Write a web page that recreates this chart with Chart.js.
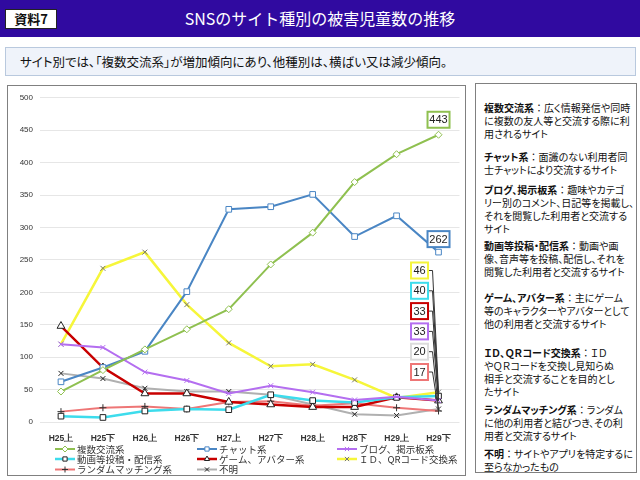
<!DOCTYPE html>
<html lang="ja">
<head>
<meta charset="utf-8">
<script src="https://cdn.jsdelivr.net/npm/chart.js@4.4.1/dist/chart.umd.min.js"></script>
<style>
  body { margin: 0; width: 640px; height: 480px; background: #fff; position: relative; overflow: hidden;
         font-family: "Noto Sans CJK JP", "Noto Sans", sans-serif; }
  .band { position: absolute; left: 0; top: 0; width: 640px; height: 37px; background: #300aa0; }
  .badge { position: absolute; left: 5px; top: 9px; width: 50px; height: 18px; background: #fff; border: 1px solid #222;
           font-size: 13px; font-weight: bold; line-height: 18px; text-align: center; color: #111; }
  .title { position: absolute; left: 0; top: 6px; width: 640px; text-align: center; color: #fff; font-size: 16px; line-height: 24px; }
  .lead { position: absolute; left: 5px; top: 47px; width: 631px; height: 29px; background: #eff3fa; border: 1px solid #b9c9de;
          box-sizing: border-box; font-size: 12.5px; line-height: 27px; color: #111; padding-left: 14px;
          font-feature-settings: "palt"; }
  .chartbox { position: absolute; left: 7px; top: 85px; width: 459px; height: 391px; border: 1px solid #808080; box-sizing: border-box; }
  .chartbox canvas { position: absolute; left: 0; top: 0; }
  .notes { position: absolute; left: 475px; top: 83px; width: 162px; height: 390px; border: 1px solid #808080; box-sizing: border-box;
           padding: 17px 0 0 8px; font-size: 10px; line-height: 13px; color: #111; white-space: nowrap;
           font-feature-settings: "palt"; }
  .notes p { margin: 0; }
  .notes b { font-weight: bold; }
  .notes .c { font-feature-settings: normal; }
</style>
</head>
<body>
<div class="band"></div>
<div class="badge">資料7</div>
<div class="title">SNSのサイト種別の被害児童数の推移</div>
<div class="lead">サイト別では、「複数交流系」が増加傾向にあり、他種別は、横ばい又は減少傾向。</div>
<div class="chartbox"><canvas id="chart" width="457" height="389"></canvas></div>
<div class="notes">
  <p style="margin-bottom:10px"><b>複数交流系</b><span class="c">：</span>広く情報発信や同時<br>に複数の友人等と交流する際に利<br>用されるサイト</p>
  <p style="margin-bottom:7px"><b>チャット系</b><span class="c">：</span>面識のない利用者同<br>士チャットにより交流するサイト</p>
  <p style="margin-bottom:4px"><b>ブログ、掲示板系</b><span class="c">：</span>趣味やカテゴ<br>リー別のコメント、日記等を掲載し、<br>それを閲覧した利用者と交流する<br>サイト</p>
  <p style="margin-bottom:13px"><b>動画等投稿・配信系</b><span class="c">：</span>動画や画<br>像、音声等を投稿、配信し、それを<br>閲覧した利用者と交流するサイト</p>
  <p style="margin-bottom:16px"><b>ゲーム、アバター系</b><span class="c">：</span>主にゲーム<br>等のキャラクターやアバターとして<br>他の利用者と交流するサイト</p>
  <p style="margin-bottom:5px"><b>ＩＤ、ＱＲコード交換系</b><span class="c">：</span>ＩＤ<br>やＱＲコードを交換し見知らぬ<br>相手と交流することを目的とし<br>たサイト</p>
  <p style="margin-bottom:5px"><b>ランダムマッチング系</b><span class="c">：</span>ランダム<br>に他の利用者と結びつき、その利<br>用者と交流するサイト</p>
  <p><b>不明</b><span class="c">：</span>サイトやアプリを特定するに<br>至らなかったもの</p>
</div>
<script>
// periods and series (number of victimized children)
const periods = ['H25上', 'H25下', 'H26上', 'H26下', 'H27上', 'H27下', 'H28上', 'H28下', 'H29上', 'H29下'];
const yTicks = [0, 50, 100, 150, 200, 250, 300, 350, 400, 450, 500];

const multiExchange = [47, 80, 112, 143, 174, 243, 292, 370, 413, 443];
const chat = [62, 84, 109, 201, 328, 332, 351, 286, 318, 262];
const blog = [120, 115, 77, 64, 44, 56, 46, 34, 39, 33];
const video = [9, 7, 17, 20, 19, 42, 33, 30, 38, 40];
const game = [148, 84, 44, 44, 31, 27, 23, 23, 38, 33];
const idQr = [120, 237, 262, 181, 122, 86, 89, 65, 37, 46];
const random = [16, 22, 24, 20, 31, 32, 25, 29, 22, 17];
const unknown = [75, 67, 52, 47, 47, 42, 27, 12, 10, 20];

const seriesNames = ['複数交流系', 'チャット系', 'ブログ、掲示板系', '動画等投稿・配信系', 'ゲーム、アバター系',
  'ＩＤ、QRコード交換系', 'ランダムマッチング系', '不明'];

function line(label, data, color, width, style, radius, markColor, markFill) {
  return {
    label, data,
    borderColor: color, backgroundColor: color, borderWidth: width, tension: 0,
    pointStyle: style, pointRadius: radius, pointBorderWidth: 1,
    pointBorderColor: markColor, pointBackgroundColor: markFill,
    pointHoverRadius: radius
  };
}

const datasets = [
  line(seriesNames[0], multiExchange, '#8fc050', 2, 'rectRot', 3.5, '#8fc050', '#fff'),
  line(seriesNames[1], chat, '#4a86c4', 2, 'rect', 4, '#4a86c4', '#fff'),
  line(seriesNames[2], blog, '#b46ef0', 2, 'crossRot', 3.5, '#b46ef0', '#fff'),
  line(seriesNames[3], video, '#3ddcec', 2.5, 'rect', 4, '#222', '#fff'),
  line(seriesNames[4], game, '#c80000', 2.5, 'triangle', 4.5, '#222', '#fff'),
  line(seriesNames[5], idQr, '#f6f63a', 2.5, 'crossRot', 3.5, '#777', '#fff'),
  line(seriesNames[6], random, '#ee7676', 2, 'cross', 3.5, '#333', '#fff'),
  line(seriesNames[7], unknown, '#b0b0b0', 2, 'crossRot', 3.5, '#222', '#fff')
];

// end-value boxes: border colour per dataset, and order for the stacked small ones
const boxColors = ['#8fc050', '#4a86c4', '#b46ef0', '#3ddcec', '#c80000', '#f4f43a', '#ee7676', '#dcdcdc'];
const stackOrder = [5, 3, 4, 2, 7, 6];

const endLabels = {
  id: 'endLabels',
  afterDatasetsDraw(chart) {
    const ctx = chart.ctx;
    const last = periods.length - 1;
    ctx.save();
    ctx.font = '11px "Liberation Sans", "DejaVu Sans", sans-serif';
    ctx.textAlign = 'center';
    ctx.textBaseline = 'middle';
    const box = (cx, cy, w, text, color) => {
      ctx.fillStyle = '#fff';
      ctx.fillRect(cx - w / 2, cy - 8, w, 16);
      ctx.strokeStyle = color;
      ctx.lineWidth = 2;
      ctx.strokeRect(cx - w / 2, cy - 8, w, 16);
      ctx.fillStyle = '#222';
      ctx.fillText(text, cx, cy + 0.5);
    };
    [0, 1].forEach(i => {
      const pt = chart.getDatasetMeta(i).data[last];
      const v = chart.data.datasets[i].data[last];
      box(pt.x, pt.y - (i === 0 ? 15 : 13), 22, String(v), boxColors[i]);
    });
    stackOrder.forEach((i, k) => {
      const pt = chart.getDatasetMeta(i).data[last];
      const v = chart.data.datasets[i].data[last];
      const cx = pt.x - 19;
      const cy = 184.5 + k * 20.3;
      ctx.strokeStyle = '#333';
      ctx.lineWidth = 1;
      ctx.beginPath();
      ctx.moveTo(cx + 9, cy);
      ctx.lineTo(cx + 13, cy);
      ctx.lineTo(pt.x, pt.y);
      ctx.stroke();
      box(cx, cy, 17, String(v), boxColors[i]);
    });
    ctx.restore();
  }
};

// legend laid out as a 3-column grid under the plot
const gridLegend = {
  id: 'gridLegend',
  afterDraw(chart) {
    const ctx = chart.ctx;
    const colX = [47, 189, 329];
    const rowY = [363, 373, 383.5];
    ctx.save();
    ctx.font = '9.5px "Noto Sans CJK JP", sans-serif';
    ctx.textBaseline = 'middle';
    chart.data.datasets.forEach((ds, i) => {
      const x = colX[i % 3];
      const y = rowY[Math.floor(i / 3)];
      ctx.strokeStyle = ds.borderColor;
      ctx.lineWidth = ds.borderWidth;
      ctx.beginPath();
      ctx.moveTo(x, y);
      ctx.lineTo(x + 20, y);
      ctx.stroke();
      ctx.lineWidth = 1;
      ctx.fillStyle = ds.pointBackgroundColor;
      ctx.strokeStyle = ds.pointBorderColor;
      Chart.helpers.drawPoint(ctx, { pointStyle: ds.pointStyle, radius: 3, borderWidth: 1, rotation: 0 }, x + 10, y);
      ctx.fillStyle = '#333';
      ctx.fillText(ds.label, x + 22, y);
    });
    ctx.restore();
  }
};

new Chart(document.getElementById('chart'), {
  type: 'line',
  data: { labels: periods, datasets },
  options: {
    responsive: false,
    animation: false,
    layout: { padding: { top: 10, right: 1, bottom: 33, left: 0 } },
    plugins: { legend: { display: false }, tooltip: { enabled: false } },
    scales: {
      x: {
        offset: true,
        grid: { display: false },
        border: { display: false },
        ticks: { color: '#333', font: { size: 8.5, weight: 'bold' }, maxRotation: 0, autoSkip: false, padding: 4 },
        afterFit(scale) { scale.height = 20; }
      },
      y: {
        min: 0, max: 500,
        afterBuildTicks(scale) { scale.ticks = yTicks.map(v => ({ value: v })); },
        grid: { color: '#e6e6e6', lineWidth: 1, drawTicks: false },
        border: { display: false },
        ticks: { color: '#333', font: { size: 8 }, padding: 7 },
        afterFit(scale) { scale.width = 32; }
      }
    }
  },
  plugins: [endLabels, gridLegend]
});
</script>
</body>
</html>
